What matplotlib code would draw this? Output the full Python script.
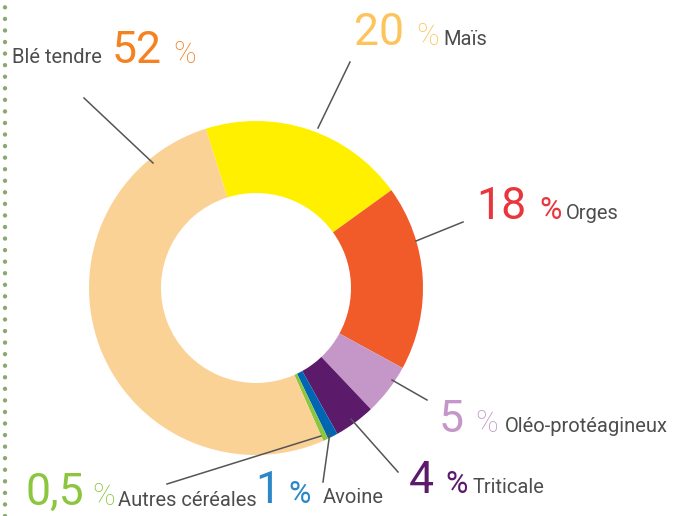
import matplotlib
matplotlib.use("Agg")
import matplotlib.pyplot as plt

# data (clockwise from the top)
categories = ["Maïs", "Orges", "Oléo-protéagineux", "Triticale", "Avoine", "Autres céréales", "Blé tendre"]
values = [20, 18, 5, 4, 1, 0.5, 52]
value_labels = ["20", "18", "5", "4", "1", "0,5", "52"]
wedge_colors = ["#FFF000", "#F15A29", "#C497C8", "#5C1A6B", "#0066B3", "#8CC63F", "#FBD295"]
text_colors = ["#FDC45C", "#E8363C", "#C497C8", "#5C1A6B", "#2B87C8", "#8CC63F", "#F58220"]

plt.rcParams['font.family'] = ['Roboto', 'DejaVu Sans']

W, H = 682, 516
fig = plt.figure(figsize=(W / 100, H / 100), dpi=100)
ax = fig.add_axes([0, 0, 1, 1])

cx, cy, R = 256, H - 288, 167
ax.pie(values, colors=wedge_colors, startangle=107.5, counterclock=False,
       center=(cx, cy), radius=R, frame=True,
       wedgeprops=dict(width=72, linewidth=0))
ax.set_xlim(0, W)
ax.set_ylim(0, H)
ax.set_aspect('equal')
ax.axis('off')

# dotted rule at left
ax.plot([5, 5], [0, H - 4], color="#8BA870", lw=3.2,
        linestyle=(0, (0.001, 2.6)), dash_capstyle='round')

# leader lines (pixel coords, y from top)
leaders = {
    "Blé tendre": [(84, 98), (153, 163)],
    "Maïs": [(350, 62), (318, 128)],
    "Orges": [(463, 222), (416, 241)],
    "Oléo-protéagineux": [(427, 400), (392, 380)],
    "Triticale": [(398, 472), (351, 419)],
    "Avoine": [(323, 482), (330, 432)],
    "Autres céréales": [(167, 484), (321, 436)],
}
for pts in leaders.values():
    ax.plot([p[0] for p in pts], [H - p[1] for p in pts], color="#555555", lw=1.1)

# label layout: (x of number, x of %, x of name, baseline y, % weight)
layout = {
    "Blé tendre": (112, 173, 12, 63, 'light'),
    "Maïs": (354, 416, 443, 45, 'light'),
    "Orges": (476, 539, 566, 219, 'normal'),
    "Oléo-protéagineux": (439, 475, 505, 432, 'light'),
    "Triticale": (409, 445, 473, 493, 'normal'),
    "Avoine": (255, 288, 323, 503, 'normal'),
    "Autres céréales": (26, 92, 118, 505, 'light'),
}
name_y = {"Autres céréales": 506}

for cat, lab, col in zip(categories, value_labels, text_colors):
    xn, xp, xt, yb, wp = layout[cat]
    ax.text(xn, H - yb, lab, color=col, fontsize=32, fontweight='normal',
            ha='left', va='baseline')
    ax.text(xp, H - yb, "%", color=col, fontsize=22, fontweight=wp,
            ha='left', va='baseline')
    ax.text(xt, H - name_y.get(cat, yb), cat, color="#4D4D4D", fontsize=14.5,
            fontweight='normal', ha='left', va='baseline')

fig.savefig("out.png", dpi=100)
